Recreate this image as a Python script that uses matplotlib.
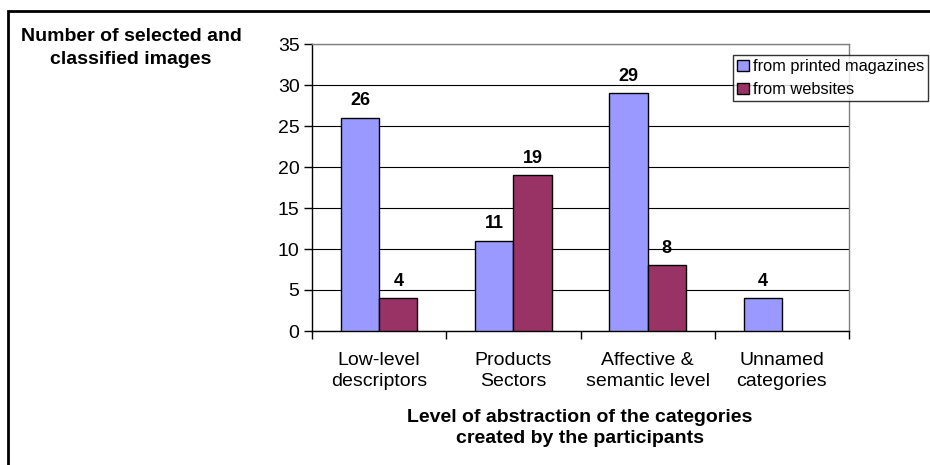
import numpy as np
import matplotlib
matplotlib.use("Agg")
import matplotlib.pyplot as plt
from matplotlib.patches import Rectangle

plt.rcParams['font.family'] = ['Liberation Sans', 'DejaVu Sans']

categories = ["Low-level\ndescriptors", "Products\nSectors",
              "Affective &\nsemantic level", "Unnamed\ncategories"]
printed = [26, 11, 29, 4]
websites = [4, 19, 8, 0]
series_names = ["from printed magazines", "from websites"]
colors = ["#9999FF", "#993366"]

W, H = 930, 465
fig = plt.figure(figsize=(W / 100, H / 100), dpi=100)
# axes box in pixels: left 312, right 849, top 44, bottom 331
ax = fig.add_axes([312 / W, 1 - 331 / H, (849 - 312) / W, (331 - 44) / H])

x = np.arange(len(categories))
bw = 0.285
b1 = ax.bar(x - bw / 2, printed, bw, color=colors[0], edgecolor="black",
            linewidth=1, label=series_names[0], zorder=3)
b2 = ax.bar(x + bw / 2, websites, bw, color=colors[1], edgecolor="black",
            linewidth=1, label=series_names[1], zorder=3)

# data labels, and hide empty bars
for bars, vals in ((b1, printed), (b2, websites)):
    for r, v in zip(bars, vals):
        if v == 0:
            r.set_visible(False)
            continue
        ax.annotate(str(v), (r.get_x() + r.get_width() / 2, v),
                    xytext=(0, 6), textcoords="offset points",
                    ha="center", va="bottom", fontsize=13, fontweight="bold")

ax.set_xlim(-0.5, 3.5)
ax.set_ylim(0, 35)
ax.set_yticks(range(0, 36, 5))
ax.yaxis.grid(True, color="black", linewidth=0.8, zorder=0)
ax.set_axisbelow(True)

ax.set_xticks(x)
ax.set_xticklabels(categories, fontsize=14, linespacing=1.31)
ax.tick_params(axis="x", length=0, pad=15)
ax.set_xticks(np.arange(-0.5, 4, 1), minor=True)
ax.tick_params(axis="x", which="minor", length=6, width=1, color="black")
ax.tick_params(axis="y", labelsize=14, length=6, width=1, pad=3)

for s in ("top", "right"):
    ax.spines[s].set_color("#808080")
    ax.spines[s].set_linewidth(1)
for s in ("left", "bottom"):
    ax.spines[s].set_color("black")
    ax.spines[s].set_linewidth(1)

fig.text(131 / W, 1 - 48 / H, "Number of selected and\nclassified images",
         ha="center", va="center", fontsize=14, fontweight="bold",
         linespacing=1.42)
fig.text(580 / W, 1 - 428 / H,
         "Level of abstraction of the categories\ncreated by the participants",
         ha="center", va="center", fontsize=14, fontweight="bold",
         linespacing=1.36)

leg = fig.legend(loc="upper left", bbox_to_anchor=(733 / W, 1 - 55 / H),
                 fontsize=11.8, frameon=True, fancybox=False,
                 borderpad=0.25, handlelength=0.7, handleheight=0.7,
                 handletextpad=0.25, labelspacing=0.5, borderaxespad=0)
leg.get_frame().set_edgecolor("black")
leg.get_frame().set_linewidth(1)

# outer border (left and top visible)
fig.add_artist(Rectangle((8 / W, -0.05), 1.1, 1 - 11 / H + 0.05,
                         transform=fig.transFigure, fill=False,
                         edgecolor="black", linewidth=2))

fig.savefig("out.png", dpi=100)
